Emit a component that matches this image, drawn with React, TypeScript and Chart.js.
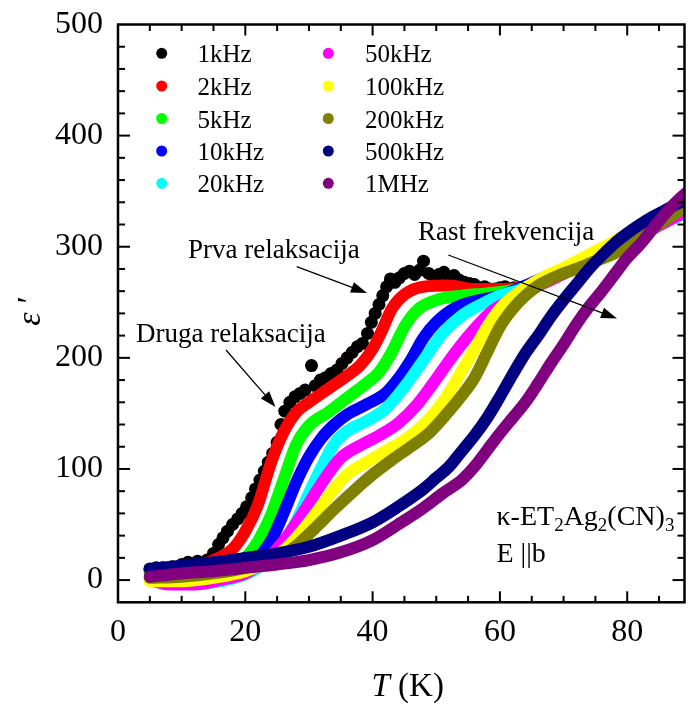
import React, { useEffect, useRef } from "react";
import { Chart, registerables } from "chart.js";
Chart.register(...registerables);

const seriesLabels = ["1kHz", "2kHz", "5kHz", "10kHz", "20kHz", "50kHz", "100kHz", "200kHz", "500kHz", "1MHz"];
const seriesColors = ["#000000", "#ff0000", "#00ff00", "#0000ff", "#00ffff", "#ff00ff", "#ffff00", "#808000", "#000080", "#800080"];

const xTicks = [0, 20, 40, 60, 80];
const yTicks = [0, 100, 200, 300, 400, 500];

// 1 kHz (scattered points)
const t1k = [5, 6, 7, 8.5, 10, 11, 12.5, 14, 15, 15.8, 16.5, 17.2, 18, 18.8, 19.5, 20.2, 21, 21.6, 22.3, 23, 23.6, 24.3, 25, 25.6, 26.2, 27, 27.8, 28.6, 29.4, 30.4, 31, 31.8, 32.6, 33.5, 34.4, 35.2, 36, 36.8, 37.6, 38.4, 39.2, 39.8, 40.4, 41, 41.6, 42.2, 42.8, 43.5, 44.2, 45, 45.8, 46.6, 47.4, 48, 48.8, 49.6, 50.4, 51.2, 52, 52.8, 53.6, 54.4, 55.2, 56, 56.8, 57.6, 58.4, 59.2, 60, 60.8, 61.6, 62.2];
const e1k = [10, 11, 11, 12, 14, 16, 17, 18, 24, 32, 38, 44, 50, 55, 60, 66, 74, 82, 90, 98, 106, 114, 124, 140, 152, 160, 165, 168, 171, 193, 175, 180, 182, 186, 189, 195, 200, 205, 210, 213, 222, 232, 240, 248, 256, 264, 271, 268, 272, 276, 278, 275, 279, 287, 276, 273, 275, 277, 272, 274, 270, 268, 267, 266, 263, 264, 262, 262, 263, 264, 262, 263];

const t2k = [5, 9, 12, 15, 18, 20, 22, 24, 26, 28, 30, 33, 36, 38, 40, 41.5, 43, 45, 48, 52, 56, 60, 63, 66.5];
const e2k = [6, 8, 12, 18, 28, 44, 68, 105, 133, 151, 160, 172, 184, 193, 208, 225, 244, 257, 264, 265, 262, 262, 263, 270];

const t5k = [5, 10, 14, 17, 20, 22, 24, 26, 28, 30, 33, 36, 39, 41, 43, 45, 47, 50, 54, 58, 62, 66, 71];
const e5k = [5, 4, 5, 9, 20, 35, 58, 90, 122, 139, 151, 164, 177, 187, 205, 228, 243, 252, 256, 258, 261, 268, 280];

const t10k = [5, 9, 12, 15, 18, 21, 24, 26, 28, 30, 32, 34, 36, 39, 42, 44, 46, 48, 50, 53, 56, 60, 64, 68, 72, 76.5];
const e10k = [3, 0, -3, 0, 5, 14, 35, 60, 88, 111, 128, 140, 149, 158, 168, 181, 198, 218, 232, 245, 251, 256, 265, 275, 285, 298];

const t20k = [5, 9, 13, 17, 20, 23, 26, 28, 30, 32, 34, 36, 39, 42, 45, 48, 51, 54, 57, 60, 63, 66, 70, 74, 78, 82, 86, 90];
const e20k = [2, -2, -3, 0, 5, 15, 33, 53, 78, 102, 123, 134, 143, 154, 174, 198, 222, 238, 248, 256, 261, 268, 278, 290, 301, 311, 322, 332];

const t50k = [5, 8, 12, 16, 20, 23, 26, 29, 32, 35, 38, 41, 44, 47, 50, 53, 56, 59, 62, 65, 68, 72, 76, 80, 84, 88, 90];
const e50k = [0, -4, -4, 0, 6, 17, 35, 60, 87, 110, 121, 130, 141, 158, 181, 205, 226, 243, 253, 262, 270, 281, 292, 304, 316, 328, 333];

const t100k = [5, 10, 15, 20, 24, 27, 30, 33, 36, 39, 42, 45, 48, 51, 54, 56, 58, 60, 62, 64, 67, 70, 74, 78, 81.5];
const e100k = [-1, -1, 2, 8, 18, 32, 52, 75, 95, 106, 116, 126, 140, 160, 188, 208, 228, 244, 255, 263, 273, 281, 293, 305, 316];

const t200k = [5, 10, 15, 20, 25, 28, 31, 34, 37, 40, 43, 46, 49, 52, 54, 56, 58, 60, 62, 64, 66, 68, 70, 72, 75, 78, 81, 84, 87, 90];
const e200k = [2, 3, 6, 11, 20, 31, 47, 64, 80, 95, 108, 120, 133, 152, 166, 182, 205, 228, 244, 256, 265, 271, 276, 280, 287, 294, 304, 316, 328, 338];

const t500k = [5, 10, 15, 20, 25, 30, 35, 40, 44, 48, 50, 52, 54, 56, 58, 60, 62, 64, 66, 68, 70, 72, 74, 76, 78, 80, 82, 84, 86, 88, 90];
const e500k = [10, 13, 16, 20, 24, 30, 40, 52, 66, 82, 92, 102, 116, 130, 146, 165, 185, 204, 220, 237, 252, 266, 280, 292, 303, 312, 320, 327, 333, 339, 344];

const t1M = [5, 10, 15, 20, 25, 30, 35, 40, 44, 48, 51, 54, 56, 58, 60, 62, 64, 66, 68, 70, 72, 74, 76, 78, 80, 82, 84, 86, 88, 90];
const e1M = [3, 6, 8, 11, 14, 18, 25, 36, 50, 65, 78, 90, 102, 117, 132, 146, 160, 177, 195, 212, 230, 246, 260, 275, 290, 302, 316, 330, 342, 352];

const seriesT = [t1k, t2k, t5k, t10k, t20k, t50k, t100k, t200k, t500k, t1M];
const seriesE = [e1k, e2k, e5k, e10k, e20k, e50k, e100k, e200k, e500k, e1M];

const SERIF = "'Liberation Serif', 'Times New Roman', serif";

function arrow(ctx: CanvasRenderingContext2D, x1: number, y1: number, x2: number, y2: number) {
  const ang = Math.atan2(y2 - y1, x2 - x1);
  const hl = 16, hw = 5.5;
  const bx = x2 - hl * Math.cos(ang), by = y2 - hl * Math.sin(ang);
  ctx.beginPath();
  ctx.moveTo(x1, y1);
  ctx.lineTo(bx, by);
  ctx.lineWidth = 1.3;
  ctx.stroke();
  ctx.beginPath();
  ctx.moveTo(x2, y2);
  ctx.lineTo(bx + hw * Math.sin(ang), by - hw * Math.cos(ang));
  ctx.lineTo(bx - hw * Math.sin(ang), by + hw * Math.cos(ang));
  ctx.closePath();
  ctx.fill();
}

const framePlugin = {
  id: "framePlugin",
  afterDatasetsDraw(chart: any) {
    const { ctx, chartArea: a, scales } = chart;
    const xs = scales.x, ys = scales.y;
    ctx.save();
    ctx.strokeStyle = "#000";
    ctx.fillStyle = "#000";
    ctx.lineWidth = 2.5;
    ctx.strokeRect(a.left, a.top, a.right - a.left, a.bottom - a.top);
    ctx.lineWidth = 2;
    const seg = (x1: number, y1: number, x2: number, y2: number) => {
      ctx.beginPath();
      ctx.moveTo(x1, y1);
      ctx.lineTo(x2, y2);
      ctx.stroke();
    };
    for (let v = 5; v <= xs.max; v += 5) {
      const px = xs.getPixelForValue(v);
      const len = v % 20 === 0 ? 11 : 6.5;
      seg(px, a.bottom, px, a.bottom - len);
      seg(px, a.top, px, a.top + len);
    }
    for (let v = 0; v < ys.max; v += 20) {
      const py = ys.getPixelForValue(v);
      const len = v % 100 === 0 ? 12 : 7;
      seg(a.left, py, a.left + len, py);
      seg(a.right, py, a.right - len, py);
    }
    ctx.restore();
  },
  afterDraw(chart: any) {
    const { ctx } = chart;
    ctx.save();
    ctx.fillStyle = "#000";
    ctx.strokeStyle = "#000";
    // legend
    ctx.font = `25px ${SERIF}`;
    ctx.textAlign = "left";
    ctx.textBaseline = "alphabetic";
    const rowY = [53.3, 86, 118.5, 151, 183.3];
    for (let i = 0; i < seriesLabels.length; i++) {
      const col = i < 5 ? 0 : 1;
      const row = i % 5;
      const mx = col === 0 ? 161.7 : 328.3;
      const tx = col === 0 ? 197.5 : 365;
      ctx.fillStyle = seriesColors[i];
      ctx.beginPath();
      ctx.arc(mx, rowY[row], 5.5, 0, Math.PI * 2);
      ctx.fill();
      ctx.fillStyle = "#000";
      ctx.fillText(seriesLabels[i], tx, rowY[row] + 9);
    }
    // annotations
    ctx.font = `27px ${SERIF}`;
    ctx.fillText("Prva relaksacija", 188, 258);
    ctx.fillText("Druga relaksacija", 136, 341.5);
    ctx.fillText("Rast frekvencija", 418, 240);
    arrow(ctx, 296.7, 266.7, 367, 293);
    arrow(ctx, 226, 350, 275.5, 407);
    arrow(ctx, 448.3, 255, 617, 318.5);
    // sample label
    const parts: [string, boolean][] = [["\u03ba-ET", false], ["2", true], ["Ag", false], ["2", true], ["(CN)", false], ["3", true]];
    let x = 496.5;
    const base = 525;
    for (const [s, sub] of parts) {
      ctx.font = sub ? `19px ${SERIF}` : `28px ${SERIF}`;
      ctx.fillText(s, x, sub ? base + 6 : base);
      x += ctx.measureText(s).width;
    }
    ctx.font = `28px ${SERIF}`;
    ctx.fillText("E ||b", 496.5, 561.5);
    // axis titles
    ctx.font = `italic 33px ${SERIF}`;
    ctx.fillText("T", 371.5, 696);
    const tw = ctx.measureText("T").width;
    ctx.font = `33px ${SERIF}`;
    ctx.fillText(" (K)", 371.5 + tw, 696);
    ctx.save();
    ctx.translate(40, 312);
    ctx.rotate(-Math.PI / 2);
    ctx.textAlign = "center";
    ctx.font = `italic 34px ${SERIF}`;
    ctx.fillText("\u03b5\u2009\u2032", 0, 0);
    ctx.restore();
    ctx.restore();
  },
};

const zeroPad = (s: any) => {
  s.paddingTop = 0;
  s.paddingBottom = 0;
  s.paddingLeft = 0;
  s.paddingRight = 0;
};

export default function App() {
  const ref = useRef<HTMLCanvasElement | null>(null);
  useEffect(() => {
    if (!ref.current) return;
    const datasets = seriesLabels.map((label, i) => {
      const data = seriesT[i].map((t, k) => ({ x: t, y: seriesE[i][k] }));
      const isScatter = i === 0;
      return {
        label,
        data,
        order: 9 - i,
        showLine: !isScatter,
        borderColor: seriesColors[i],
        backgroundColor: seriesColors[i],
        borderWidth: isScatter ? 0 : 12,
        borderCapStyle: "round" as const,
        borderJoinStyle: "round" as const,
        cubicInterpolationMode: "monotone" as const,
        pointRadius: isScatter ? 6.5 : 0,
        pointHoverRadius: 0,
        pointBorderWidth: 0,
        pointBackgroundColor: seriesColors[i],
      };
    });
    const chart = new Chart(ref.current, {
      type: "scatter",
      data: { datasets },
      options: {
        animation: false,
        responsive: false,
        devicePixelRatio: 1,
        layout: { padding: { top: 24.5, right: 1, left: 0, bottom: 0 } },
        plugins: { legend: { display: false }, tooltip: { enabled: false } },
        scales: {
          x: {
            type: "linear",
            min: 0,
            max: 89,
            afterBuildTicks: (s: any) => {
              s.ticks = xTicks.map((v) => ({ value: v }));
            },
            afterFit: (s: any) => {
              s.height = 103.7;
              zeroPad(s);
            },
            grid: { display: false, drawTicks: false },
            border: { display: false },
            ticks: { font: { family: SERIF, size: 32 }, color: "#000", padding: 11, maxRotation: 0 },
          },
          y: {
            type: "linear",
            min: -20,
            max: 500,
            afterBuildTicks: (s: any) => {
              s.ticks = yTicks.map((v) => ({ value: v }));
            },
            afterFit: (s: any) => {
              s.width = 118;
              zeroPad(s);
            },
            grid: { display: false, drawTicks: false },
            border: { display: false },
            ticks: { font: { family: SERIF, size: 32 }, color: "#000", padding: 15 },
          },
        },
      },
      plugins: [framePlugin],
    });
    return () => chart.destroy();
  }, []);
  return (
    <div style={{ position: "fixed", left: 0, top: 0, width: 691, height: 706, background: "#fff" }}>
      <canvas ref={ref} width={691} height={706} style={{ display: "block" }} />
    </div>
  );
}
